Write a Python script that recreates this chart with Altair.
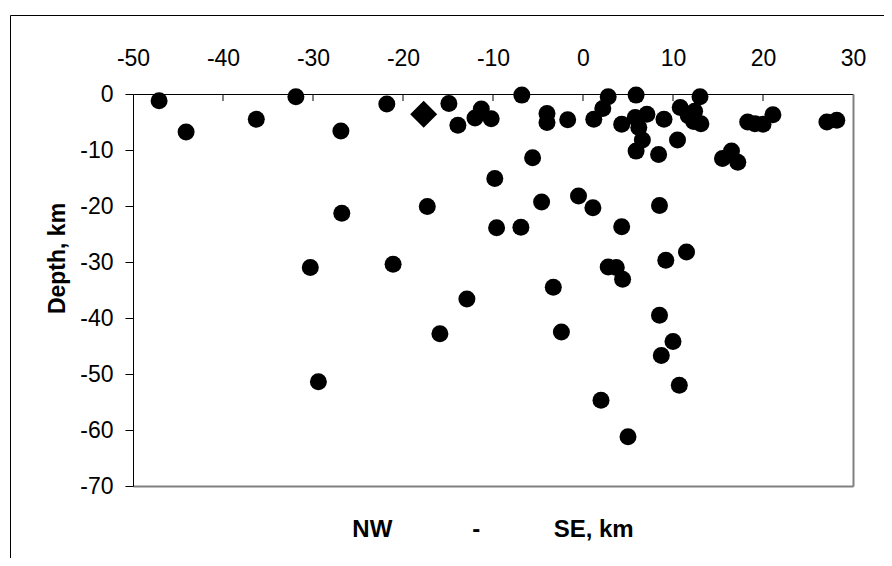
import altair as alt
import pandas as pd

# Epicentre cross-section (NW-SE distance km, depth km)
dist = [-47.1, -44.1, -36.3, -31.9, -26.9, -26.8, -30.3, -29.4, -21.8, -17.3,
        -21.1, -15.9, -12.9, -14.9, -13.9, -12.0, -11.3, -10.2, -9.8, -9.6,
        -6.8, -4.0, -4.0, -1.7, -5.6, -4.6, -6.9, -0.5, 1.1, -3.3,
        -2.4, 1.2, 2.2, 2.8, 5.9, 4.3, 5.8, 7.1, 6.2, 6.6,
        5.9, 9.0, 8.4, 10.5, 10.8, 11.7, 12.4, 12.3, 13.1, 13.0,
        18.3, 19.1, 20.0, 21.1, 27.1, 28.2, 15.5, 16.5, 17.2, 4.3,
        8.5, 11.5, 9.2, 2.8, 3.7, 4.4, 8.5, 10.0, 8.7, 10.7,
        2.0, 5.0]
depth = [-1.2, -6.8, -4.5, -0.5, -6.6, -21.3, -31.0, -51.4, -1.8, -20.1,
         -30.4, -42.8, -36.6, -1.7, -5.6, -4.3, -2.7, -4.4, -15.1, -23.9,
         -0.2, -3.5, -5.1, -4.6, -11.4, -19.3, -23.8, -18.2, -20.3, -34.5,
         -42.5, -4.5, -2.6, -0.5, -0.2, -5.4, -4.2, -3.6, -6.0, -8.2,
         -10.2, -4.5, -10.8, -8.2, -2.4, -3.9, -3.1, -4.9, -5.3, -0.5,
         -5.0, -5.3, -5.4, -3.7, -5.0, -4.7, -11.5, -10.2, -12.2, -23.7,
         -19.9, -28.2, -29.7, -30.9, -31.0, -33.1, -39.5, -44.2, -46.7, -52.0,
         -54.7, -61.2]

main_dist = [-17.7]
main_depth = [-3.6]

x_ticks = [-50, -40, -30, -20, -10, 0, 10, 20, 30]
y_ticks = [0, -10, -20, -30, -40, -50, -60, -70]

FONT = "Liberation Sans"
x_title = "NW" + "\u00a0" * 12 + "-" + "\u00a0" * 11 + "SE, km"

df = pd.DataFrame({"dist": dist, "depth": depth})
df_main = pd.DataFrame({"dist": main_dist, "depth": main_depth})
df_ticks = pd.DataFrame({"t": x_ticks[1:-1]})
df_one = pd.DataFrame({"a": [0]})

xs = alt.Scale(domain=[-50, 30], nice=False, zero=False)
ys = alt.Scale(domain=[-70, 0], nice=False, zero=False)

LABEL_EXPR = "'' + datum.value"

frame = alt.Chart(df_one).mark_rect(
    fillOpacity=0, stroke="black", strokeWidth=1
).encode(
    x=alt.value(-122.5), x2=alt.value(800),
    y=alt.value(-78.5), y2=alt.value(600)
)

xtitle = alt.Chart(df_one).mark_text(
    font=FONT, fontSize=24, fontWeight="bold", color="black",
    align="center", baseline="alphabetic"
).encode(
    x=alt.value(360), y=alt.value(443), text=alt.value(x_title)
)

inner_ticks = alt.Chart(df_ticks).mark_rule(color="black", strokeWidth=1).encode(
    x=alt.X("t:Q", scale=xs, axis=None),
    y=alt.value(0), y2=alt.value(7)
)

points = alt.Chart(df).mark_point(
    shape="circle", filled=True, color="black", opacity=1, size=289
).encode(
    x=alt.X("dist:Q", scale=xs, axis=alt.Axis(
        orient="top", values=x_ticks, title=None, grid=False,
        ticks=False, tickSize=0, labelPadding=29, labelBaseline="alphabetic",
        labelFont=FONT, labelFontSize=23, labelColor="black", labelExpr=LABEL_EXPR,
        domainColor="black", domainWidth=1, labelFlush=False)),
    y=alt.Y("depth:Q", scale=ys, axis=alt.Axis(
        orient="left", values=y_ticks, grid=False,
        title="Depth, km", titleFont=FONT, titleFontSize=23, titleFontWeight="bold",
        titleColor="black", titleX=-76, titleY=164, titleBaseline="middle",
        tickSize=8, tickColor="black", tickWidth=1, labelPadding=12,
        labelFont=FONT, labelFontSize=23, labelColor="black", labelExpr=LABEL_EXPR,
        domainColor="black", domainWidth=1, labelFlush=False))
)

diamond = alt.Chart(df_main).mark_point(
    shape="diamond", filled=True, color="black", opacity=1, size=729
).encode(
    x=alt.X("dist:Q", scale=xs, axis=alt.Axis(
        orient="bottom", labels=False, ticks=False, grid=False, title=None,
        domainColor="#808080", domainWidth=2)),
    y=alt.Y("depth:Q", scale=ys, axis=alt.Axis(
        orient="right", labels=False, ticks=False, grid=False, title=None,
        domainColor="#808080", domainWidth=2))
)

chart = alt.layer(frame, xtitle, inner_ticks, points, diamond).resolve_axis(
    x="independent", y="independent"
).properties(
    width=720, height=392,
    autosize=alt.AutoSizeParams(type="none"),
    padding={"left": 125, "top": 86, "right": 31, "bottom": 72},
).configure_view(stroke=None).configure(background="white")

chart.save("out.html", embed_options={"renderer": "svg", "actions": False})
